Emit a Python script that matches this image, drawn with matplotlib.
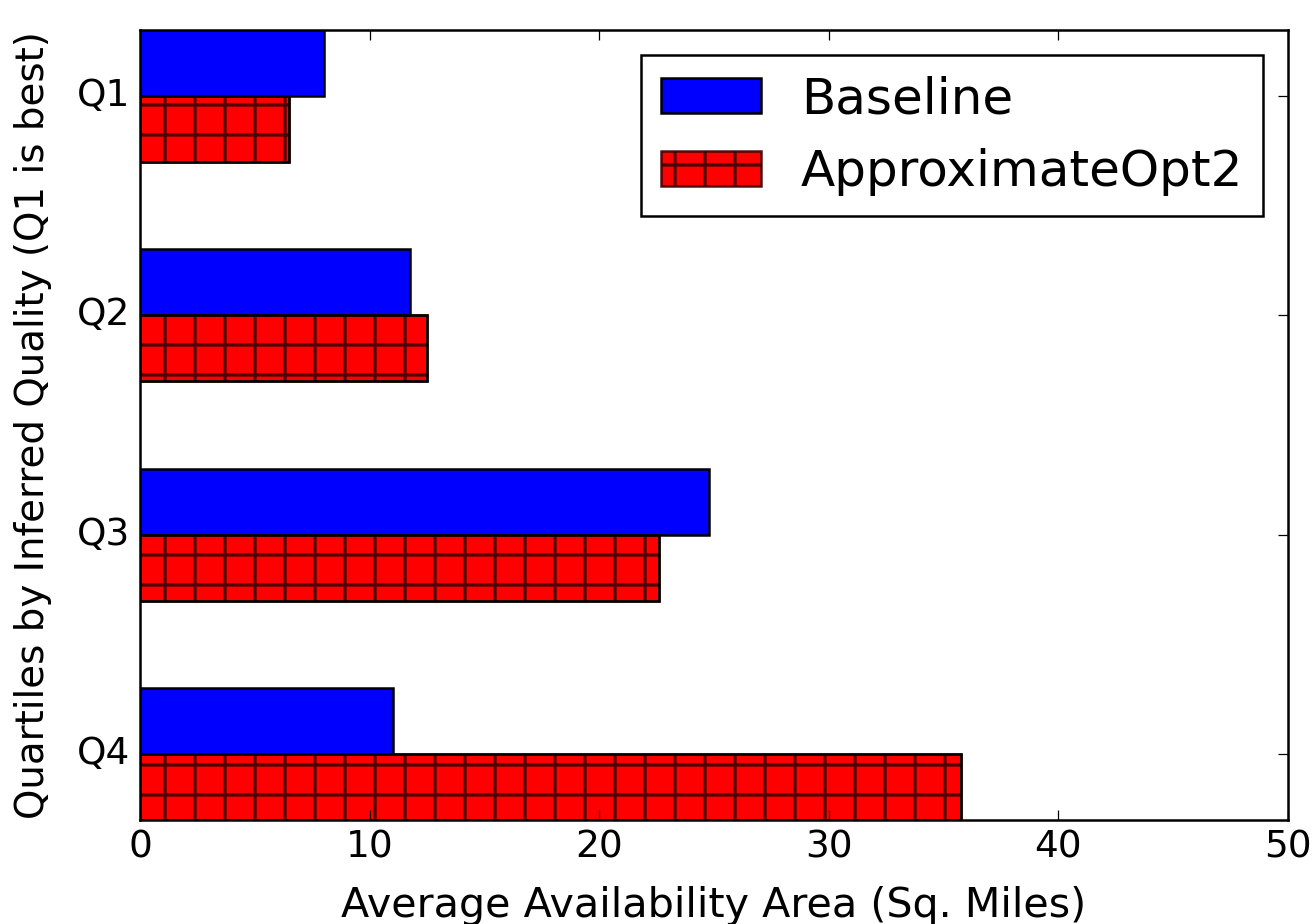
import numpy as np
import matplotlib
matplotlib.use("Agg")
import matplotlib.pyplot as plt

plt.style.use("classic")
plt.rcParams["font.family"] = ["DejaVu Sans"]
plt.rcParams["hatch.linewidth"] = 1.3

quartiles = ["Q1", "Q2", "Q3", "Q4"]
baseline = [8.0, 11.75, 24.8, 11.0]
approx_opt2 = [6.5, 12.5, 22.6, 35.75]

h = 0.3
y = np.arange(len(quartiles))

fig = plt.figure(figsize=(1315 / 180, 924 / 180), dpi=180, facecolor="white")
ax = fig.add_axes([0.1065, 0.1126, 0.873, 0.8549])

ax.barh(y - h, baseline, height=h, align="edge", color="blue",
        edgecolor="black", linewidth=1.0, label="Baseline")
# hatch in a softer dark tone, then a black outline on top
ax.barh(y, approx_opt2, height=h, align="edge", color="red",
        edgecolor=(0.25, 0, 0, 0.9), linewidth=1.0, hatch="+",
        label="ApproximateOpt2")
ax.barh(y, approx_opt2, height=h, align="edge", fill=False,
        edgecolor="black", linewidth=1.0)

ax.set_xlim(0, 50)
ax.set_ylim(len(quartiles) - 1 + h, -h)
ax.set_yticks(y)
ax.set_yticklabels(quartiles)
ax.tick_params(labelsize=15)
ax.set_xlabel("Average Availability Area (Sq. Miles)", fontsize=16.5, labelpad=8)
ax.set_ylabel("Quartiles by Inferred Quality (Q1 is best)", fontsize=15.5, labelpad=10)
ax.legend(loc="upper right", fontsize=20)

fig.savefig("out.png", dpi=180, facecolor="white")
